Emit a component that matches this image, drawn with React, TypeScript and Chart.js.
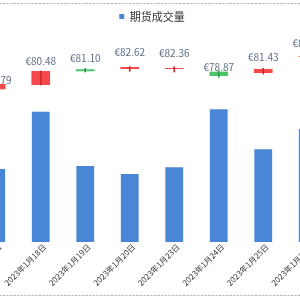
import React, { useEffect, useRef } from 'react';
import { Chart, registerables } from 'chart.js';

Chart.register(...registerables);

const categories = [
  '2023年1月17日',
  '2023年1月18日',
  '2023年1月19日',
  '2023年1月20日',
  '2023年1月23日',
  '2023年1月24日',
  '2023年1月25日',
  '2023年1月26日',
];
const volumes = [104.3, 186.1, 108.6, 97.1, 106.7, 189.6, 132.4, 161.0];
const openPrices = [73.43, 74.5, 78.43, 78.5, 78.5, 77.83, 77.5, 81.5];
const closePrices = [74.75, 78.0, 77.93, 79.0, 78.75, 76.75, 78.5, 81.7];
const highPrices = [74.9, 78.0, 78.68, 79.08, 79.08, 78.0, 78.68, 81.9];
const lowPrices = [73.3, 74.5, 77.75, 77.93, 77.75, 76.43, 77.25, 81.3];
const priceLabels = [75.79, 80.48, 81.1, 82.62, 82.36, 78.87, 81.43, 84.97];

const FONT = "'Noto Sans CJK SC', 'Noto Sans', sans-serif";
const UP = '#f5484b';
const DOWN = '#4cc46c';
const UP_WICK = '#c9282c';
const DOWN_WICK = '#2a9a4a';

const extrasPlugin = {
  id: 'extras',
  beforeDraw(chart: any) {
    const { ctx, width } = chart;
    ctx.save();
    ctx.strokeStyle = '#b5b5b5';
    ctx.lineWidth = 1;
    ctx.setLineDash([2.4, 1.2]);
    [3.5, 295.5].forEach((y) => {
      ctx.beginPath();
      ctx.moveTo(0, y);
      ctx.lineTo(width, y);
      ctx.stroke();
    });
    ctx.restore();
  },
  afterDatasetsDraw(chart: any) {
    const { ctx } = chart;
    const xs = chart.scales.x;
    const ys = chart.scales.y1;
    ctx.save();
    ctx.font = `10px ${FONT}`;
    ctx.fillStyle = '#5e6d86';
    ctx.textAlign = 'center';
    ctx.textBaseline = 'middle';
    priceLabels.forEach((v, i) => {
      ctx.fillText('€' + v.toFixed(2), xs.getPixelForValue(i), ys.getPixelForValue(v));
    });
    ctx.restore();
  },
};

export default function App() {
  const ref = useRef<HTMLCanvasElement | null>(null);
  useEffect(() => {
    if (!ref.current) return;
    const isUp = openPrices.map((o, i) => closePrices[i] >= o);
    const chart = new Chart(ref.current, {
      type: 'bar',
      data: {
        labels: categories,
        datasets: [
          {
            label: '期货成交量',
            data: volumes,
            yAxisID: 'y',
            backgroundColor: '#4a86d6',
            barPercentage: 0.4,
            categoryPercentage: 1,
            grouped: false,
            order: 3,
          } as any,
          {
            label: 'body',
            data: openPrices.map((o, i) => [o, closePrices[i]]),
            yAxisID: 'y1',
            backgroundColor: isUp.map((u) => (u ? UP : DOWN)),
            barPercentage: 0.42,
            categoryPercentage: 1,
            grouped: false,
            order: 2,
          } as any,
          {
            label: 'wick',
            data: lowPrices.map((l, i) => [l, highPrices[i]]),
            yAxisID: 'y1',
            backgroundColor: isUp.map((u) => (u ? UP_WICK : DOWN_WICK)),
            barThickness: 1,
            grouped: false,
            order: 1,
          } as any,
        ],
      },
      options: {
        animation: false,
        responsive: true,
        maintainAspectRatio: false,
        layout: { padding: 0 },
        plugins: {
          tooltip: { enabled: false },
          legend: {
            display: true,
            position: 'top',
            labels: {
              filter: (item: any) => item.datasetIndex === 0,
              boxWidth: 5,
              boxHeight: 5,
              color: '#333',
              font: { size: 11, family: FONT },
              padding: 11,
            },
          },
        },
        scales: {
          x: {
            offset: true,
            grid: { display: false, drawTicks: false, tickLength: 0 },
            border: { display: false },
            ticks: {
              autoSkip: false,
              minRotation: 45,
              maxRotation: 45,
              color: '#333',
              font: { size: 8, family: FONT },
              padding: 0,
              labelOffset: 4,
            },
            afterFit: (scale: any) => {
              scale.paddingLeft = 0;
              scale.paddingRight = 0;
              scale.height = 58;
            },
          },
          y: { display: false, min: 0, max: 300 },
          y1: { display: false, min: 35.25, max: 87.75 },
        },
      },
      plugins: [extrasPlugin],
    });
    return () => chart.destroy();
  }, []);

  return (
    <div
      style={{
        position: 'fixed',
        left: 0,
        top: 0,
        width: 300,
        height: 300,
        overflow: 'hidden',
        background: '#fff',
      }}
    >
      <div style={{ position: 'absolute', left: -26, top: 0, width: 356, height: 300 }}>
        <canvas ref={ref} />
      </div>
    </div>
  );
}
